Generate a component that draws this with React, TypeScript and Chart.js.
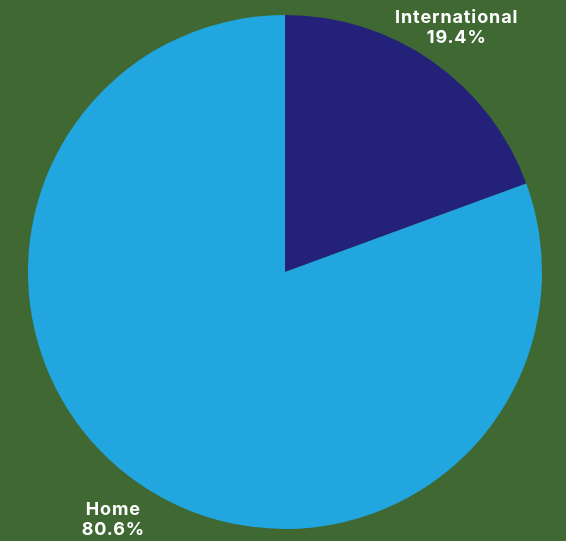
import React, { useEffect, useRef } from "react";
import { Chart, registerables } from "chart.js";

Chart.register(...registerables);

const categories = ["International", "Home"];
const values = [19.4, 80.6];
const valueLabels = ["19.4%", "80.6%"];
const colors = ["#23217a", "#22a6e0"];
const background = "#3f6833";

const labelPlugin = {
  id: "outerLabels",
  afterDraw(chart: any) {
    const ctx = chart.ctx;
    const meta = chart.getDatasetMeta(0);
    ctx.save();
    ctx.fillStyle = "#ffffff";
    ctx.font = "bold 18px Inter";
    (ctx as any).letterSpacing = "0.9px";
    ctx.textAlign = "center";
    ctx.textBaseline = "alphabetic";
    meta.data.forEach((arc: any, i: number) => {
      const mid = (arc.startAngle + arc.endAngle) / 2;
      const r = arc.outerRadius * 1.167;
      const x = arc.x + Math.cos(mid) * r;
      const y = arc.y + Math.sin(mid) * r;
      ctx.fillText(categories[i], x, y - 3);
      ctx.fillText(valueLabels[i], x, y + 17);
    });
    ctx.restore();
  },
};

export default function App() {
  const ref = useRef<HTMLCanvasElement>(null);
  useEffect(() => {
    document.body.style.margin = "0";
    const chart = new Chart(ref.current!, {
      type: "pie",
      data: {
        labels: categories,
        datasets: [
          {
            data: values,
            backgroundColor: colors,
            borderWidth: 0,
          },
        ],
      },
      options: {
        animation: false,
        responsive: false,
        layout: { padding: { top: 15, bottom: 12, left: 28, right: 24 } },
        plugins: { legend: { display: false }, tooltip: { enabled: false } },
      },
      plugins: [labelPlugin],
    });
    return () => chart.destroy();
  }, []);
  return (
    <div style={{ width: 566, height: 541, background }}>
      <canvas ref={ref} width={566} height={541} style={{ display: "block" }} />
    </div>
  );
}
